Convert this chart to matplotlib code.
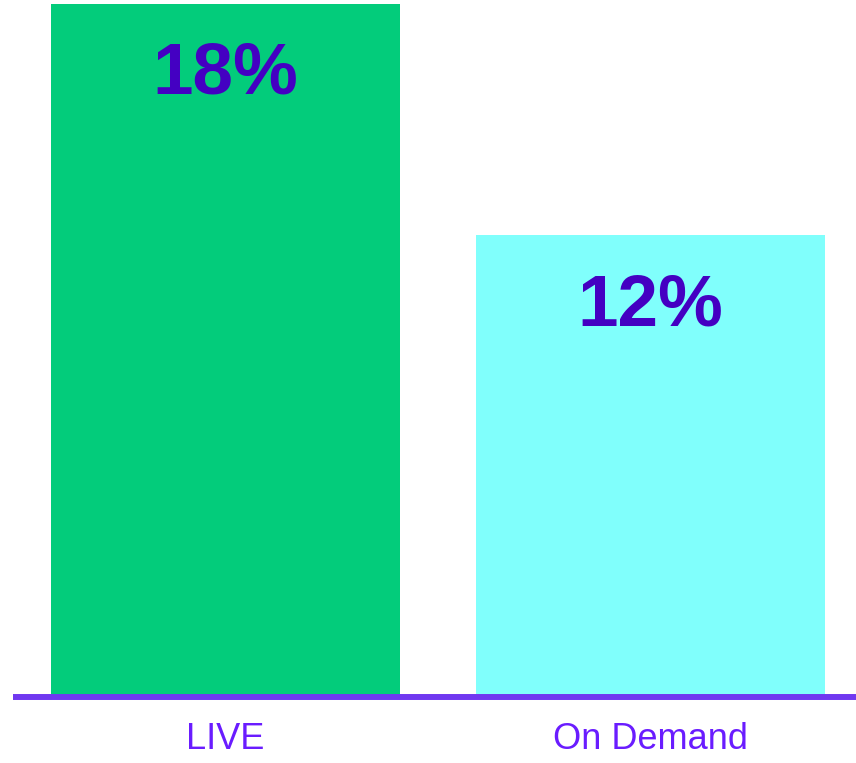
import matplotlib.pyplot as plt

categories = ['LIVE', 'On Demand']
values = [18, 12]
bar_colors = ['#03CC7B', '#80FFFC']

plt.rcParams['font.family'] = ['Liberation Sans', 'DejaVu Sans']

fig = plt.figure(figsize=(8.56, 7.63), dpi=100)
ax = fig.add_axes([13 / 856, (763 - 697) / 763, 843 / 856, (697 - 4) / 763])

x = list(range(len(categories)))
bars = ax.bar(x, values, width=0.821, color=bar_colors, zorder=1)

for xi, v in zip(x, values):
    ax.annotate(f'{v}%', xy=(xi, v), xytext=(0, -90), textcoords='offset pixels',
                ha='center', va='baseline', fontsize=52.5, fontweight='bold',
                color='#4400C2')

ax.set_xlim(-0.5, 1.4835)
ax.set_ylim(0, 18)
ax.set_xticks(x)
ax.set_xticklabels(categories, fontsize=26, color='#6A1CFF')
ax.tick_params(axis='x', length=0, pad=18)
ax.set_yticks([])
for s in ['top', 'right', 'left']:
    ax.spines[s].set_visible(False)
ax.spines['bottom'].set_color('#7038F0')
ax.spines['bottom'].set_linewidth(4.3)
ax.spines['bottom'].set_capstyle('butt')
ax.spines['bottom'].set_zorder(3)

fig.savefig('out.png', dpi=100)
